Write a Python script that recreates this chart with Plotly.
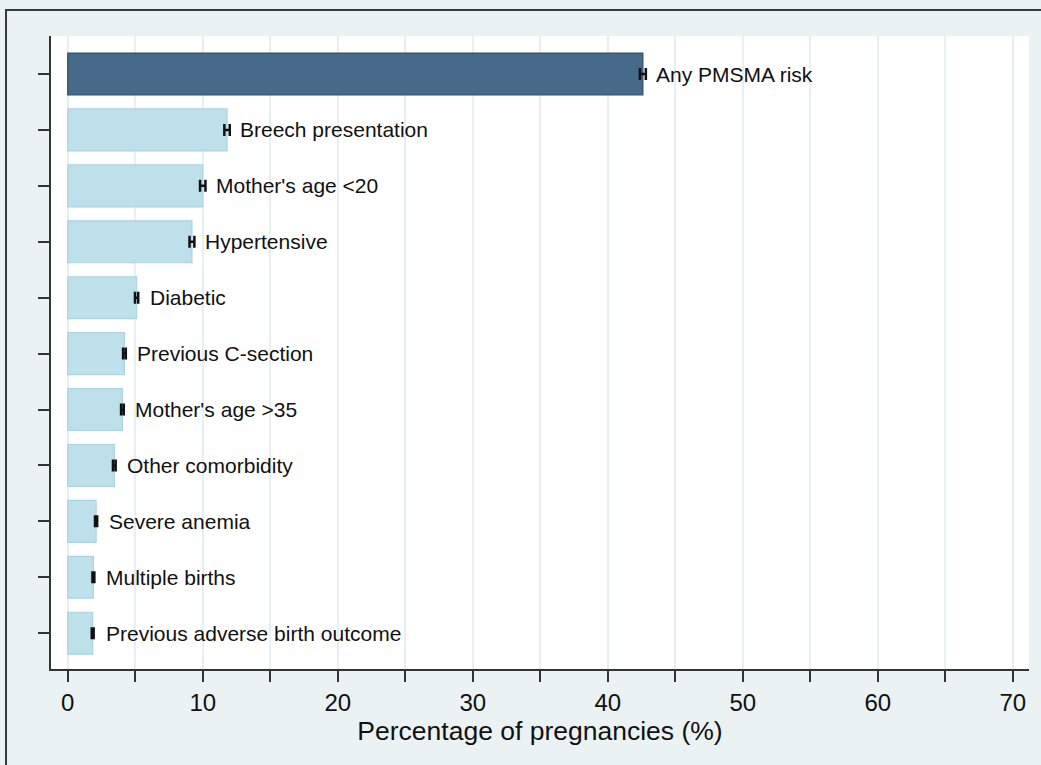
import plotly.graph_objects as go

# Share of pregnancies with each PMSMA risk factor, with 95% CI half-widths
categories = [
    "Any PMSMA risk",
    "Breech presentation",
    "Mother's age <20",
    "Hypertensive",
    "Diabetic",
    "Previous C-section",
    "Mother's age >35",
    "Other comorbidity",
    "Severe anemia",
    "Multiple births",
    "Previous adverse birth outcome",
]
percent = [42.6, 11.8, 10.0, 9.2, 5.1, 4.2, 4.05, 3.45, 2.1, 1.9, 1.85]
ci_half = [0.22, 0.2, 0.2, 0.18, 0.12, 0.1, 0.1, 0.1, 0.08, 0.07, 0.07]

x_ticks = list(range(0, 75, 5))
x_ticklabels = [str(v) if v % 10 == 0 else "" for v in x_ticks]

DARK = "#476a8a"
DARK_EDGE = "#2e5070"
LIGHT = "#bde0ea"
LIGHT_EDGE = "#a9d4e1"
BG = "#eaf2f3"
FONT = "Liberation Sans, Arial, sans-serif"

fill = [DARK] + [LIGHT] * (len(categories) - 1)
edge = [DARK_EDGE] + [LIGHT_EDGE] * (len(categories) - 1)

fig = go.Figure()
fig.add_trace(go.Bar(
    y=categories,
    x=percent,
    orientation="h",
    width=0.75,
    marker=dict(color=fill, line=dict(color=edge, width=1.2)),
    error_x=dict(type="data", array=ci_half, visible=True,
                 color="#111111", thickness=2.5, width=6),
    hoverinfo="x+y",
    showlegend=False,
))

for cat, val in zip(categories, percent):
    fig.add_annotation(
        x=val, y=cat, xref="x", yref="y",
        text=cat, showarrow=False,
        xanchor="left", yanchor="middle", xshift=11,
        font=dict(family=FONT, size=21, color="#111111"),
    )

# outer frame around the whole graph region
fig.add_shape(
    type="rect", xref="paper", yref="paper",
    x0=-0.046, x1=1.2, y0=-0.3, y1=1.041,
    line=dict(color="#3a3a3a", width=2), fillcolor="rgba(0,0,0,0)",
    layer="below",
)

fig.update_layout(
    width=1041, height=765,
    margin=dict(l=51, r=12, t=36, b=96),
    paper_bgcolor=BG,
    plot_bgcolor="white",
    font=dict(family=FONT, color="#111111"),
    bargap=0.25,
    xaxis=dict(
        range=[-1.24, 71.2],
        tickvals=x_ticks, ticktext=x_ticklabels,
        ticks="outside", ticklen=11, tickwidth=1.5, tickcolor="#333333",
        tickfont=dict(size=24, family=FONT, color="#111111"),
        ticklabelstandoff=0,
        showgrid=True, gridcolor="#e6f0f4", gridwidth=1.5,
        zeroline=False,
        showline=True, linecolor="#333333", linewidth=2,
        title=dict(text="Percentage of pregnancies (%)",
                   font=dict(size=26.5, family=FONT, color="#111111"),
                   standoff=0),
    ),
    yaxis=dict(
        type="category",
        categoryorder="array", categoryarray=categories,
        range=[10.64, -0.68],
        showticklabels=False,
        ticks="outside", ticklen=11, tickwidth=1.5, tickcolor="#333333",
        showgrid=False, zeroline=False,
        showline=True, linecolor="#333333", linewidth=2,
    ),
)

fig.write_html("out.html")
